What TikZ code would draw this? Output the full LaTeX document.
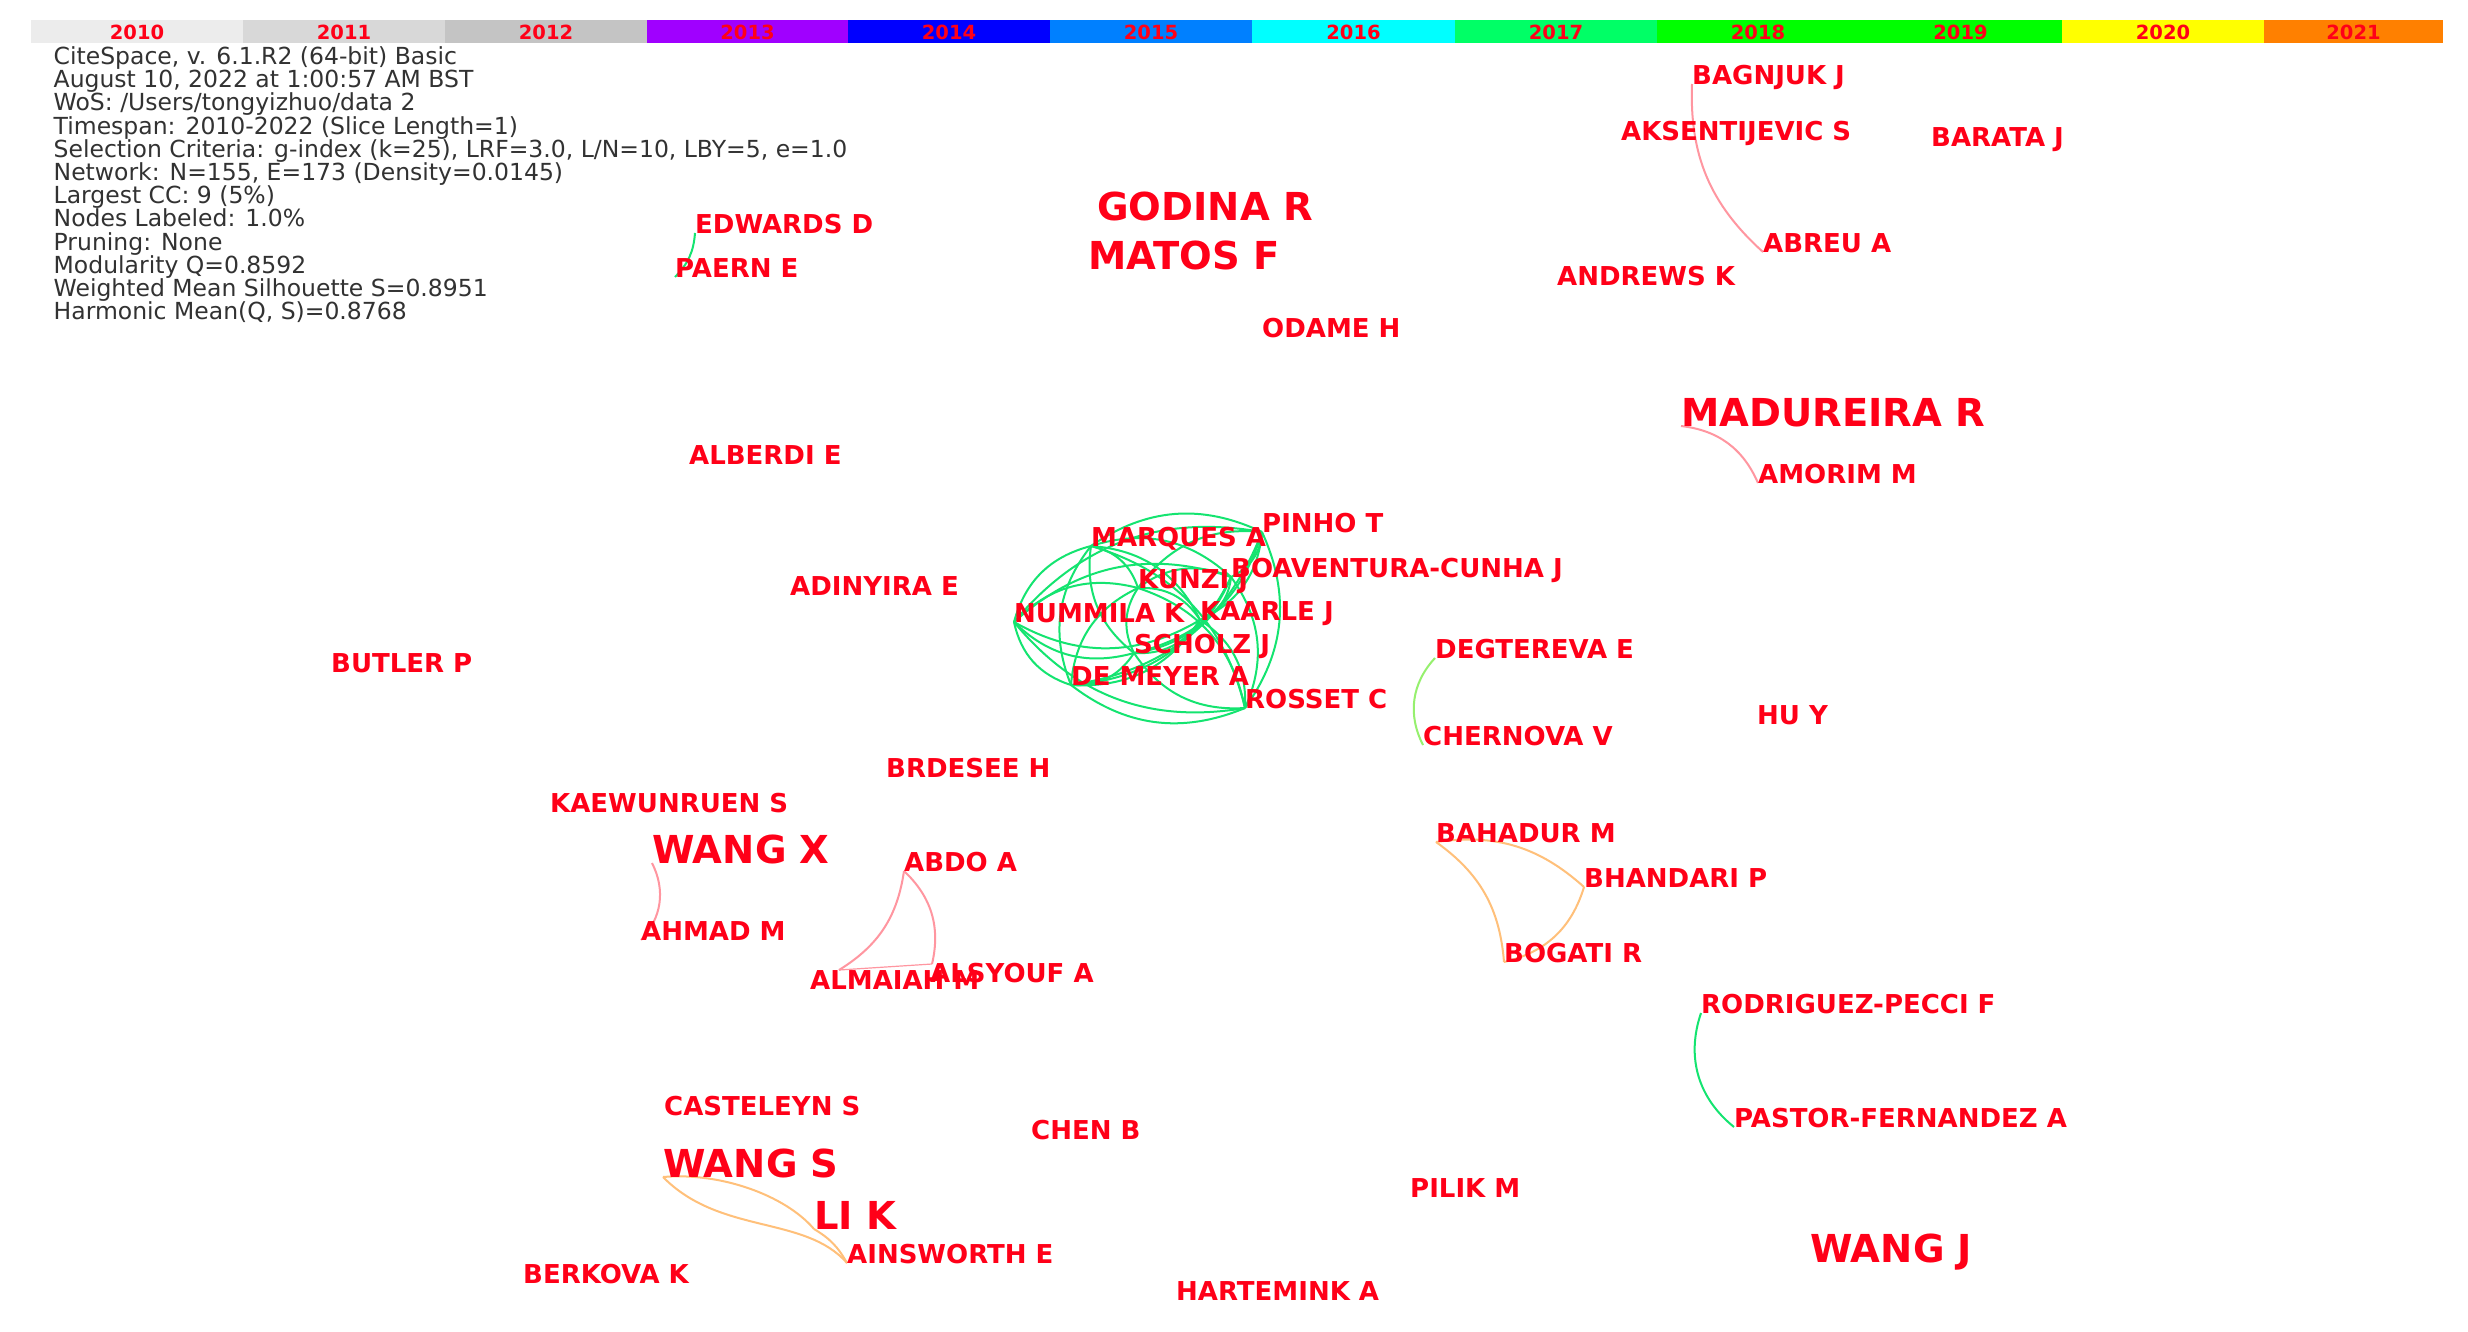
\documentclass[tikz,border=0pt]{standalone}
\usepackage{fontspec}
\setmainfont{DejaVu Sans}
\usetikzlibrary{backgrounds}
\definecolor{labred}{RGB}{255,0,24}
\definecolor{infogray}{RGB}{50,50,50}
\definecolor{cgreen}{RGB}{20,228,112}
\definecolor{epink}{RGB}{255,150,160}
\definecolor{eorange}{RGB}{255,192,122}
\definecolor{elgreen}{RGB}{150,240,110}
\definecolor{y2010}{RGB}{236,236,236}
\definecolor{y2011}{RGB}{216,216,216}
\definecolor{y2012}{RGB}{196,196,196}
\definecolor{y2013}{RGB}{160,0,255}
\definecolor{y2014}{RGB}{0,0,255}
\definecolor{y2015}{RGB}{0,128,255}
\definecolor{y2016}{RGB}{0,255,255}
\definecolor{y2017}{RGB}{0,255,102}
\definecolor{y2018}{RGB}{0,255,0}
\definecolor{y2019}{RGB}{0,255,0}
\definecolor{y2020}{RGB}{255,255,0}
\definecolor{y2021}{RGB}{255,128,0}
\begin{document}
\begin{tikzpicture}[x=1pt,y=-1pt,
 lab/.style={anchor=base west,inner sep=0pt,text=labred,font=\fontsize{26}{28}\selectfont\bfseries},
 biglab/.style={lab,font=\fontsize{38.5}{40}\selectfont\bfseries},
 infotext/.style={anchor=base west,inner sep=0pt,text=infogray,font=\fontsize{23.5}{24}\selectfont},
 yeartext/.style={anchor=base,inner sep=0pt,text=labred,font=\fontsize{19.5}{20}\selectfont\bfseries},
 cedge/.style={draw=cgreen,line width=2pt},
 pedge/.style={draw=epink,line width=2pt},
 oedge/.style={draw=eorange,line width=2pt},
 gedge/.style={draw=elgreen,line width=2pt}
]
\useasboundingbox (0,0) rectangle (2468,1331);

% ---- year bar ----
\foreach \xa/\xb/\yr in {31/243/2010,243/445/2011,445/647/2012,647/848/2013,848/1050/2014,1050/1252/2015,1252/1455/2016,1455/1657/2017,1657/1859/2018,1859/2062/2019,2062/2264/2020,2264/2443/2021}{
  \fill[y\yr] (\xa,20) rectangle (\xb,42.5);
  \node[yeartext] (yr\yr) at ({(\xa+\xb)/2},39) {\yr};
}

% ---- info text ----
\node[infotext] (info1) at (53.5,64.5) {CiteSpace, v. 6.1.R2 (64-bit) Basic};
\node[infotext] (info2) at (53.5,87.7) {August 10, 2022 at 1:00:57 AM BST};
\node[infotext] (info3) at (53.5,110.9) {WoS: /Users/tongyizhuo/data 2};
\node[infotext] (info4) at (53.5,134.1) {Timespan: 2010-2022 (Slice Length=1)};
\node[infotext] (info5) at (53.5,157.3) {Selection Criteria: g-index (k=25), LRF=3.0, L/N=10, LBY=5, e=1.0};
\node[infotext] (info6) at (53.5,180.5) {Network: N=155, E=173 (Density=0.0145)};
\node[infotext] (info7) at (53.5,203.7) {Largest CC: 9 (5\%)};
\node[infotext] (info8) at (53.5,226.9) {Nodes Labeled: 1.0\%};
\node[infotext] (info9) at (53.5,250.1) {Pruning: None};
\node[infotext] (info10) at (53.5,273.3) {Modularity Q=0.8592};
\node[infotext] (info11) at (53.5,296.5) {Weighted Mean Silhouette S=0.8951};
\node[infotext] (info12) at (53.5,319.7) {Harmonic Mean(Q, S)=0.8768};

% ---- labels ----
\node[lab] (edwards) at (695,233) {EDWARDS D};
\node[lab] (paern) at (675,277) {PAERN E};
\node[biglab] (godina) at (1097,220) {GODINA R};
\node[biglab] (matos) at (1088,269) {MATOS F};
\node[lab] (odame) at (1262,337) {ODAME H};
\node[lab] (bagnjuk) at (1692,84) {BAGNJUK J};
\node[lab] (aksent) at (1621,140) {AKSENTIJEVIC S};
\node[lab] (barata) at (1931,146) {BARATA J};
\node[lab] (abreu) at (1763,252) {ABREU A};
\node[lab] (andrews) at (1557,285) {ANDREWS K};
\node[biglab] (madureira) at (1681,426) {MADUREIRA R};
\node[lab] (amorim) at (1758,483) {AMORIM M};
\node[lab] (alberdi) at (689,464) {ALBERDI E};
\node[lab] (pinho) at (1262,532) {PINHO T};
\node[lab] (marques) at (1091,546) {MARQUES A};
\node[lab] (boaventura) at (1231,577) {BOAVENTURA-CUNHA J};
\node[lab] (kunzi) at (1138,588) {KUNZI J};
\node[lab] (nummila) at (1014,622) {NUMMILA K};
\node[lab] (kaarle) at (1200,620) {KAARLE J};
\node[lab] (scholz) at (1134,653) {SCHOLZ J};
\node[lab] (demeyer) at (1071,685) {DE MEYER A};
\node[lab] (rosset) at (1245,708) {ROSSET C};
\node[lab] (degtereva) at (1435,658) {DEGTEREVA E};
\node[lab] (chernova) at (1423,745) {CHERNOVA V};
\node[lab] (huy) at (1757,724) {HU Y};
\node[lab] (adinyira) at (790,595) {ADINYIRA E};
\node[lab] (butler) at (331,672) {BUTLER P};
\node[lab] (brdesee) at (886,777) {BRDESEE H};
\node[lab] (kaewun) at (550,812) {KAEWUNRUEN S};
\node[biglab] (wangx) at (652,863) {WANG X};
\node[lab] (abdo) at (904,871) {ABDO A};
\node[lab] (ahmad) at (641,940) {AHMAD M};
\node[lab] (almaiah) at (810,989) {ALMAIAH M};
\node[lab] (alsyouf) at (930,982) {ALSYOUF A};
\node[lab] (bahadur) at (1436,842) {BAHADUR M};
\node[lab] (bhandari) at (1584,887) {BHANDARI P};
\node[lab] (bogati) at (1504,962) {BOGATI R};
\node[lab] (rodriguez) at (1701,1013) {RODRIGUEZ-PECCI F};
\node[lab] (pastor) at (1734,1127) {PASTOR-FERNANDEZ A};
\node[lab] (casteleyn) at (664,1115) {CASTELEYN S};
\node[lab] (chen) at (1031,1139) {CHEN B};
\node[biglab] (wangs) at (663,1177) {WANG S};
\node[biglab] (lik) at (814,1229) {LI K};
\node[lab] (ainsworth) at (847,1263) {AINSWORTH E};
\node[lab] (berkova) at (523,1283) {BERKOVA K};
\node[lab] (pilik) at (1410,1197) {PILIK M};
\node[lab] (hartemink) at (1176,1300) {HARTEMINK A};
\node[biglab] (wangj) at (1810,1262) {WANG J};

% ---- edges (behind labels) ----
\begin{scope}[on background layer]
\fill[white] (0,0) rectangle (2468,1331);
\foreach \a/\b in {kaarle/rosset,kaarle/scholz,kaarle/demeyer,kaarle/nummila,marques/kaarle,kunzi/kaarle,pinho/kaarle,boaventura/kaarle,
  rosset/scholz,rosset/demeyer,rosset/nummila,marques/rosset,kunzi/rosset,pinho/rosset,boaventura/rosset,
  scholz/demeyer,scholz/nummila,scholz/marques,scholz/kunzi,pinho/scholz,boaventura/scholz,
  demeyer/nummila,demeyer/marques,demeyer/kunzi,pinho/demeyer,boaventura/demeyer,
  nummila/marques,nummila/kunzi,nummila/pinho,nummila/boaventura,
  marques/kunzi,marques/pinho,marques/boaventura,
  kunzi/pinho,kunzi/boaventura,pinho/boaventura}{
  \draw[cedge] (\a.base west) to[bend left=30] (\b.base west);
}
\draw[cedge] (edwards.base west) to[bend left=20] (paern.base west);
\draw[pedge] (bagnjuk.base west) to[bend right=25] (abreu.base west);
\draw[pedge] (madureira.base west) to[bend left=30] (amorim.base west);
\draw[gedge] (degtereva.base west) to[bend right=35] (chernova.base west);
\draw[pedge] (wangx.base west) to[bend left=35] (ahmad.base west);
\draw[pedge] (abdo.base west) to[bend left=25] ([shift={(29,-19)}]almaiah.base west);
\draw[pedge] (abdo.base west) to[bend left=30] ([shift={(2,-18)}]alsyouf.base west);
\draw[pedge,line width=1.2pt] ([shift={(29,-19)}]almaiah.base west) -- ([shift={(2,-18)}]alsyouf.base west);
\draw[oedge] (bahadur.base west) to[bend left=25] (bhandari.base west);
\draw[oedge] (bahadur.base west) to[bend left=25] (bogati.base west);
\draw[oedge] (bhandari.base west) to[bend left=30] (bogati.base west);
\draw[cedge] (rodriguez.base west) to[bend right=35] (pastor.base west);
\draw[oedge] (wangs.base west) .. controls (720,1172) and (785,1195) .. (lik.base west);
\draw[oedge] (wangs.base west) .. controls (720,1235) and (805,1215) .. (ainsworth.base west);
\draw[oedge] (lik.base west) to[bend left=15] (ainsworth.base west);
\end{scope}
\end{tikzpicture}
\end{document}
